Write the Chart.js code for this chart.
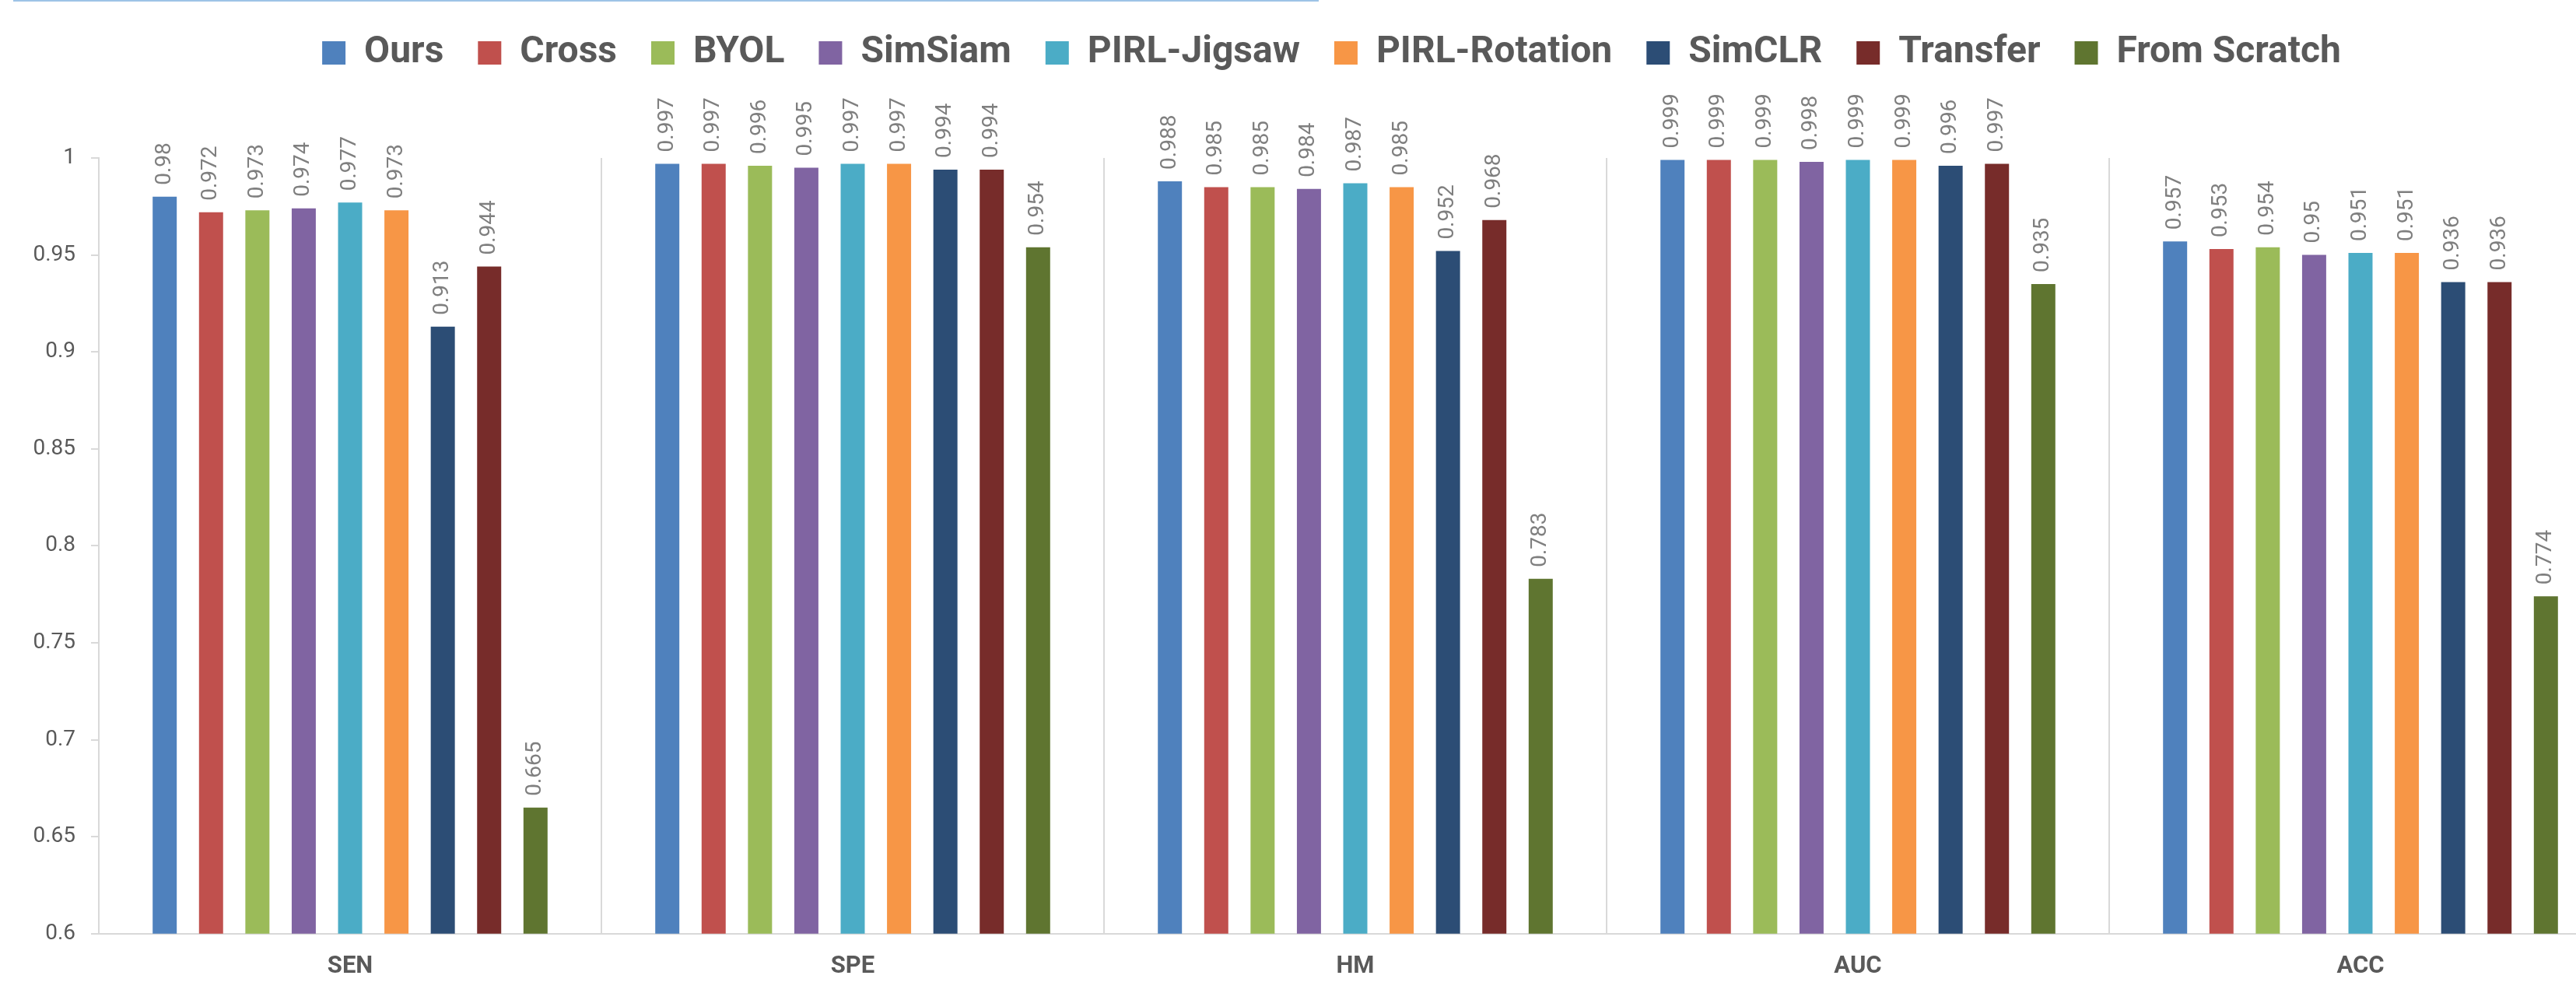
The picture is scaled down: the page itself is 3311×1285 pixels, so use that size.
<!DOCTYPE html>
<html>
<head>
<meta charset="utf-8">
<title>Metrics comparison</title>
<script src="https://cdn.jsdelivr.net/npm/chart.js@4/dist/chart.umd.min.js"></script>
<style>
  html, body { margin: 0; padding: 0; background: #fff; overflow: hidden; }
  #wrap { position: relative; width: 3311px; height: 1285px; overflow: hidden; }
  #topline { position: absolute; left: 17px; top: 0; width: 1678px; height: 2px; background: #9dc3e6; }
  canvas { display: block; }
</style>
</head>
<body>
<div id="wrap">
  <canvas id="metrics" width="3357" height="1285"></canvas>
  <div id="topline"></div>
</div>
<script>
// metrics on the x axis
const categories = ['SEN', 'SPE', 'HM', 'AUC', 'ACC'];

// one array per method, in the order SEN, SPE, HM, AUC, ACC
const ours        = [0.98,  0.997, 0.988, 0.999, 0.957];
const cross       = [0.972, 0.997, 0.985, 0.999, 0.953];
const byol        = [0.973, 0.996, 0.985, 0.999, 0.954];
const simSiam     = [0.974, 0.995, 0.984, 0.998, 0.95];
const pirlJigsaw  = [0.977, 0.997, 0.987, 0.999, 0.951];
const pirlRotation= [0.973, 0.997, 0.985, 0.999, 0.951];
const simClr      = [0.913, 0.994, 0.952, 0.996, 0.936];
const transfer    = [0.944, 0.994, 0.968, 0.997, 0.936];
const fromScratch = [0.665, 0.954, 0.783, 0.935, 0.774];

const seriesNames = ['Ours', 'Cross', 'BYOL', 'SimSiam', 'PIRL-Jigsaw', 'PIRL-Rotation', 'SimCLR', 'Transfer', 'From Scratch'];
const seriesData = [ours, cross, byol, simSiam, pirlJigsaw, pirlRotation, simClr, transfer, fromScratch];
const seriesColors = ['#4F81BD', '#C0504D', '#9BBB59', '#8064A2', '#4BACC6', '#F79646', '#2C4D75', '#772C2A', '#5F7530'];

// y axis range
const yMin = 0.6;
const yMax = 1;
const yStep = 0.05;

// vertical value labels above each bar
const barLabels = {
  id: 'barLabels',
  afterDatasetsDraw(chart) {
    const ctx = chart.ctx;
    ctx.save();
    ctx.font = '28px Roboto';
    ctx.fillStyle = '#7f7f7f';
    ctx.textAlign = 'left';
    ctx.textBaseline = 'middle';
    chart.data.datasets.forEach((ds, i) => {
      chart.getDatasetMeta(i).data.forEach((bar, j) => {
        ctx.save();
        ctx.translate(bar.x, bar.y - 15);
        ctx.rotate(-Math.PI / 2);
        ctx.fillText(String(ds.data[j]), 0, 0);
        ctx.restore();
      });
    });
    ctx.restore();
  }
};

// legend sits at the very top and a bit right of the canvas centre
const legendShift = {
  id: 'legendShift',
  afterLayout(chart) {
    const lg = chart.legend;
    const h = lg.height;
    lg.top = 0;
    lg.bottom = lg.top + h;
    lg.left += 33;
    lg.right += 33;
  }
};

const ctx = document.getElementById('metrics');
new Chart(ctx, {
  type: 'bar',
  data: {
    labels: categories,
    datasets: seriesNames.map((name, i) => ({
      label: name,
      data: seriesData[i],
      backgroundColor: seriesColors[i],
      borderWidth: 0,
      categoryPercentage: 0.83,
      barPercentage: 0.52,
    })),
  },
  options: {
    responsive: false,
    animation: false,
    layout: {
      padding: { left: 0, right: 0, top: 101, bottom: 0 },
    },
    scales: {
      x: {
        grid: {
          color: '#d9d9d9',
          lineWidth: 2,
          drawTicks: false,
          offset: true,
        },
        border: { color: '#d9d9d9', width: 2 },
        ticks: {
          color: '#595959',
          padding: 24,
          font: { family: 'Roboto', size: 31, weight: 'bold' },
        },
      },
      y: {
        min: yMin,
        max: yMax,
        afterFit: (scale) => { scale.width = 127; },
        grid: {
          drawOnChartArea: false,
          drawTicks: true,
          tickLength: 10,
          color: '#d9d9d9',
          lineWidth: 2,
        },
        border: { color: '#d9d9d9', width: 2 },
        ticks: {
          stepSize: yStep,
          padding: 20,
          color: '#595959',
          font: { family: 'Roboto', size: 28 },
          callback: (v) => String(+Number(v).toFixed(2)),
        },
      },
    },
    plugins: {
      legend: {
        display: true,
        position: 'top',
        labels: {
          color: '#595959',
          boxWidth: 30,
          boxHeight: 30,
          padding: 44,
          font: { family: 'Roboto', size: 48, weight: 'bold' },
        },
      },
      tooltip: { enabled: false },
    },
  },
  plugins: [barLabels, legendShift],
});
</script>
</body>
</html>
